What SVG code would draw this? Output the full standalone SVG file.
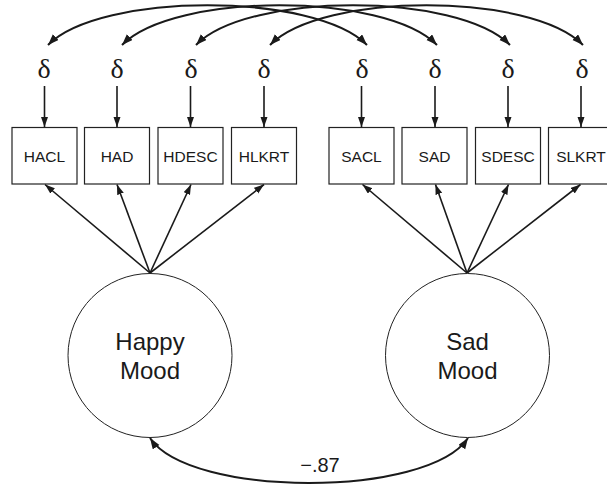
<svg xmlns="http://www.w3.org/2000/svg" width="607" height="486" viewBox="0 0 607 486">
<style>
.box{fill:#fff;stroke:#222;stroke-width:1.2}
.lat{fill:#fff;stroke:#222;stroke-width:1}
.lbl{font-family:"Liberation Sans",Arial,sans-serif;font-size:15.5px;fill:#1a1a1a;text-anchor:middle}
.big{font-family:"Liberation Sans",Arial,sans-serif;font-size:24px;fill:#1a1a1a;text-anchor:middle}
.del{font-family:"Liberation Serif","Times New Roman",serif;font-size:28px;fill:#1a1a1a;text-anchor:middle}
.c{fill:none;stroke:#1a1a1a;stroke-width:1.6}
.c2{fill:none;stroke:#1a1a1a;stroke-width:2;marker-start:url(#ah2);marker-end:url(#ah2)}
.one{marker-end:url(#ah)}
</style>
<defs>
<marker id="ah" markerUnits="userSpaceOnUse" markerWidth="10" markerHeight="8" refX="10" refY="3.5" orient="auto-start-reverse">
<path d="M0,0 L10,3.5 L0,7 z" fill="#1a1a1a"/>
</marker>
<marker id="ah2" markerUnits="userSpaceOnUse" markerWidth="11" markerHeight="9" refX="11" refY="4" orient="auto-start-reverse">
<path d="M0,0 L11,4 L0,8 z" fill="#1a1a1a"/>
</marker>
</defs>
<g id="connectors">
<path class="c2" d="M48,45 C100,-8 315,-8 367,45"/>
<path class="c2" d="M122,45 C174,-8 385,-8 437,45"/>
<path class="c2" d="M196,45 C248,-8 458,-8 510,45"/>
<path class="c2" d="M270,45 C322,-8 531,-8 583,45"/>
<path class="c one" d="M44.5,86 V127"/>
<path class="c one" d="M117,86 V127"/>
<path class="c one" d="M190.5,86 V127"/>
<path class="c one" d="M264,86 V127"/>
<path class="c one" d="M361.5,86 V127"/>
<path class="c one" d="M435,86 V127"/>
<path class="c one" d="M508,86 V127"/>
<path class="c one" d="M581,86 V127"/>
<path class="c one" d="M150,273 L45,184.5"/>
<path class="c one" d="M150,273 L117,184.5"/>
<path class="c one" d="M150,273 L191,184.5"/>
<path class="c one" d="M150,273 L264,184.5"/>
<path class="c one" d="M467,273 L362.5,184.5"/>
<path class="c one" d="M467,273 L435.5,184.5"/>
<path class="c one" d="M467,273 L508.5,184.5"/>
<path class="c one" d="M467,273 L580.5,184.5"/>
<path class="c2" d="M150,438 C190,498 428,498 468,438"/>
<text class="big" x="320" y="472" style="font-size:20px">−.87</text>
</g>
<g id="d1"><text class="del" x="44" y="78">δ</text></g>
<g id="d2"><text class="del" x="117" y="78">δ</text></g>
<g id="d3"><text class="del" x="191" y="78">δ</text></g>
<g id="d4"><text class="del" x="264" y="78">δ</text></g>
<g id="d5"><text class="del" x="362" y="78">δ</text></g>
<g id="d6"><text class="del" x="435" y="78">δ</text></g>
<g id="d7"><text class="del" x="508" y="78">δ</text></g>
<g id="d8"><text class="del" x="582" y="78">δ</text></g>
<g id="HACL"><rect class="box" x="12" y="127.5" width="65" height="56.5"/><text class="lbl" x="44.5" y="161.5">HACL</text></g>
<g id="HAD"><rect class="box" x="84.5" y="127.5" width="65" height="56.5"/><text class="lbl" x="117" y="161.5">HAD</text></g>
<g id="HDESC"><rect class="box" x="158" y="127.5" width="65" height="56.5"/><text class="lbl" x="190.5" y="161.5">HDESC</text></g>
<g id="HLKRT"><rect class="box" x="231.5" y="127.5" width="65" height="56.5"/><text class="lbl" x="264" y="161.5">HLKRT</text></g>
<g id="SACL"><rect class="box" x="329" y="127.5" width="65" height="56.5"/><text class="lbl" x="361.5" y="161.5">SACL</text></g>
<g id="SAD"><rect class="box" x="402" y="127.5" width="65" height="56.5"/><text class="lbl" x="434.5" y="161.5">SAD</text></g>
<g id="SDESC"><rect class="box" x="475.5" y="127.5" width="65" height="56.5"/><text class="lbl" x="508" y="161.5">SDESC</text></g>
<g id="SLKRT"><rect class="box" x="548.5" y="127.5" width="65" height="56.5"/><text class="lbl" x="581" y="161.5">SLKRT</text></g>
<g id="HappyMood"><circle class="lat" cx="150" cy="355.5" r="82"/><text class="big" x="150" y="350">Happy</text><text class="big" x="150" y="379">Mood</text></g>
<g id="SadMood"><circle class="lat" cx="467.5" cy="355.5" r="82"/><text class="big" x="467.5" y="350">Sad</text><text class="big" x="467.5" y="379">Mood</text></g>
</svg>
